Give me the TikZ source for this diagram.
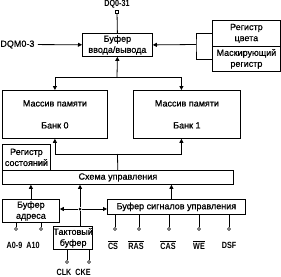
\documentclass[tikz,border=0pt]{standalone}
\usepackage{fontspec}
\setmainfont{Liberation Sans}[FakeBold=0.8]
\newfontfamily\pinfont{Liberation Sans Bold}[FakeStretch=0.8]
\usepackage{tikz}
\usetikzlibrary{arrows.meta,positioning}
\newcommand{\ovl}[1]{$\overline{\hbox{#1}}$}

\begin{document}
\begin{tikzpicture}[
  x=1pt, y=-1pt,
  font=\fontsize{9}{11}\selectfont,
  line width=0.8pt,
  box/.style={rectangle, draw, inner sep=0pt, align=center, anchor=north west},
  lbl/.style={inner sep=0pt, font=\fontsize{9}{11}\pinfont},
  pinend/.style={circle, draw, fill=white, inner sep=0pt, minimum size=3pt,
                 line width=0.5pt},
  arr/.style={-{Triangle[length=4pt, width=4pt]}},
]
\useasboundingbox (0,0) rectangle (281,276);

% I/O buffer
\node[box, minimum width=70pt, minimum height=23pt] (iobuf) at (82,33)
  {Буфер\\ввода/вывода};

% Data pins
\node[rectangle, draw, fill=white, inner sep=0pt, minimum size=3pt,
      line width=0.5pt] (dq) at (117,12) {};
\node[lbl, above=2pt of dq] (dqlbl) {DQ0-31};
\node[lbl, font=\fontsize{9}{11}\selectfont, anchor=west] (dqm) at (0,44.5)
  {DQM0-3};

% Color and mask registers
\node[box, minimum width=68pt, minimum height=26pt] (colreg) at (212,20)
  {Регистр\\цвета};
\node[box, minimum width=68pt, minimum height=25pt] (maskreg) at (212,46)
  {Маскирующий\\регистр};
\coordinate (brk) at (196,44.5);

% Memory banks
\node[box, minimum width=105pt, minimum height=48pt] (bank0) at (2,90)
  {Массив памяти\\[11pt]Банк 0};
\node[box, minimum width=107pt, minimum height=48pt] (bank1) at (133,90)
  {Массив памяти\\[11pt]Банк 1};
\coordinate (topbus) at (117,77);
\coordinate (midbus) at (117.5,154);

% Status register and control logic
\node[box, minimum width=48pt, minimum height=26pt] (statereg) at (2,144)
  {Регистр\\состояний};
\node[box, minimum width=231pt, minimum height=14pt] (ctrl) at (2,170)
  {Схема управления};

% Input buffers
\node[box, minimum width=57pt, minimum height=23pt] (addrbuf) at (2,199)
  {Буфер\\адреса};
\node[box, minimum width=138pt, minimum height=15pt] (sigbuf) at (107,199)
  {Буфер сигналов управления};
\node[box, minimum width=39pt, minimum height=23pt] (clkbuf) at (53,226)
  {Тактовый\\буфер};
\node[circle, fill, inner sep=0pt, minimum size=3pt] (jn) at (80,209) {};

% Pins
\node[pinend] (a09) at (16,229) {};
\node[pinend] (a10) at (41,229) {};
\node[pinend] (cs) at (115,229) {};
\node[pinend] (ras) at (139,229) {};
\node[pinend] (cas) at (169,229) {};
\node[pinend] (we) at (199,229) {};
\node[pinend] (dsf) at (229,229) {};
\node[pinend] (clk) at (67,262) {};
\node[pinend] (cke) at (89,262) {};

\node[lbl] (a09lbl) at (14.5,245) {A0-9};
\node[lbl] (a10lbl) at (33,245) {A10};
\node[lbl] (cslbl) at (113,245) {\ovl{CS}};
\node[lbl] (raslbl) at (136,245) {\ovl{RAS}};
\node[lbl] (caslbl) at (168,245) {\ovl{CAS}};
\node[lbl] (welbl) at (199,245) {\ovl{WE}};
\node[lbl] (dsflbl) at (229,245) {DSF};
\node[lbl] (clklbl) at (64,272) {CLK};
\node[lbl] (ckelbl) at (83,272) {CKE};

% Arrows
\draw (dq) -- (iobuf.north);
\draw[arr, shorten <=3pt] (dqm) -- (iobuf);
\draw (colreg.west) -| (brk) |- (maskreg.west);
\draw[arr] (brk) -- (iobuf.east);

\draw[arr] (topbus) -- (iobuf.south);
\draw[arr] (topbus) -| (bank0.north);
\draw[arr] (topbus) -| ([xshift=-5.5pt]bank1.north);

\draw (ctrl) -- (midbus);
\draw[arr] (midbus) -| (bank0.south);
\draw[arr] (midbus) -| ([xshift=-5.5pt]bank1.south);

\draw[arr] (addrbuf.north) -- (addrbuf.north |- ctrl.south);
\draw[arr] ([xshift=-5pt]sigbuf.north) -- ([xshift=-5pt]sigbuf.north |- ctrl.south);
\draw (clkbuf.north -| jn) -- (jn);
\draw[arr] (jn) -- (jn |- ctrl.south);
\draw[arr] (jn) -- (jn -| addrbuf.east);
\draw[arr] (jn) -- (jn -| sigbuf.west);

% Pin lines
\foreach \p in {a09, a10} \draw (\p) -- (\p |- addrbuf.south);
\foreach \p in {cs, ras, cas, we, dsf} \draw (\p) -- (\p |- sigbuf.south);
\foreach \p in {clk, cke} \draw (\p) -- (\p |- clkbuf.south);

\end{tikzpicture}
\end{document}
